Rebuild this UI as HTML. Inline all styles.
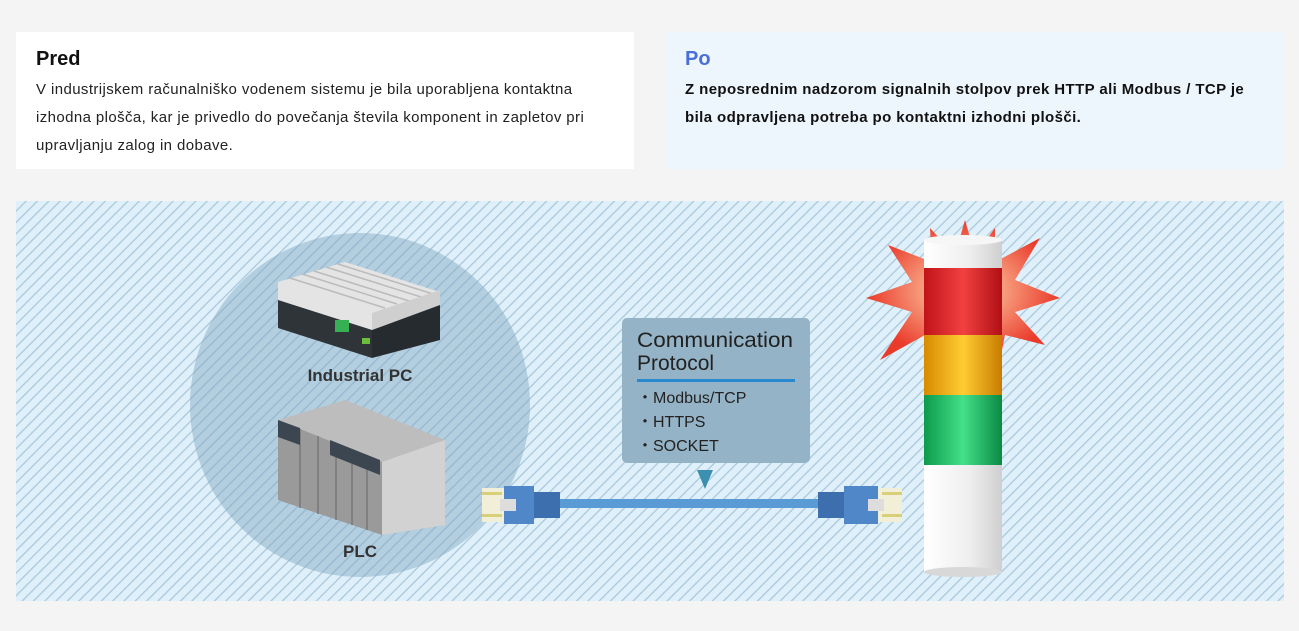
<!DOCTYPE html>
<html><head><meta charset="utf-8"><style>
body{margin:0;width:1299px;height:631px;background:#f4f4f4;font-family:"Liberation Sans",sans-serif;position:relative;overflow:hidden}
.p{position:absolute;top:32px;height:137px;box-sizing:border-box;padding:14px 20px;white-space:nowrap}
.l{left:16px;width:618px;background:#fff}
.r{left:665px;width:619px;background:#eef6fd}
h2{margin:0 0 4px;font-size:20px;font-weight:bold;line-height:26px}
.l p{margin:0;font-size:15px;line-height:28px;color:#222;letter-spacing:0.4px}
.r p{margin:0;font-size:15px;line-height:28px;font-weight:bold;color:#111;letter-spacing:0.4px}
svg{position:absolute;left:0;top:0}
</style></head><body>
<div class="p l"><h2 style="color:#111">Pred</h2><p>V industrijskem računalniško vodenem sistemu je bila uporabljena kontaktna<br>izhodna plošča, kar je privedlo do povečanja števila komponent in zapletov pri<br>upravljanju zalog in dobave.</p></div>
<div class="p r"><h2 style="color:#4a6fd8">Po</h2><p>Z neposrednim nadzorom signalnih stolpov prek HTTP ali Modbus / TCP je<br>bila odpravljena potreba po kontaktni izhodni plošči.</p></div>
<svg width="1299" height="631">
<defs>
<pattern id="h" width="8" height="8" patternUnits="userSpaceOnUse" patternTransform="rotate(45)"><rect width="8" height="8" fill="#dff0fa"/><rect width="1.3" height="8" fill="#a9c9dc"/></pattern>
<linearGradient id="wg" x1="0" x2="1"><stop offset="0" stop-color="#fff"/><stop offset="0.6" stop-color="#eee"/><stop offset="1" stop-color="#cfcfcf"/></linearGradient>
<linearGradient id="rg" x1="0" x2="1"><stop offset="0" stop-color="#c0141a"/><stop offset="0.5" stop-color="#f24040"/><stop offset="1" stop-color="#b01015"/></linearGradient>
<linearGradient id="ag" x1="0" x2="1"><stop offset="0" stop-color="#d88a00"/><stop offset="0.5" stop-color="#ffcc33"/><stop offset="1" stop-color="#c87c00"/></linearGradient>
<linearGradient id="gg" x1="0" x2="1"><stop offset="0" stop-color="#0c9a4c"/><stop offset="0.5" stop-color="#44e08a"/><stop offset="1" stop-color="#0a8a44"/></linearGradient>
<radialGradient id="sb"><stop offset="0.4" stop-color="#f7a080"/><stop offset="1" stop-color="#ea3a2a"/></radialGradient>
</defs>
<rect x="16" y="201" width="1268" height="400" fill="url(#h)"/>
<ellipse cx="360" cy="405" rx="170" ry="172" fill="#7fa4bf" opacity="0.45"/>
<polygon points="278,282 345,262 440,292 440,305 372,330 278,300" fill="#e4e4e4"/>
<g stroke="#bbb" stroke-width="1.5">
<line x1="290" y1="278" x2="385" y2="308"/><line x1="302" y1="274" x2="397" y2="304"/><line x1="314" y1="271" x2="409" y2="301"/><line x1="326" y1="267" x2="421" y2="297"/><line x1="338" y1="264" x2="433" y2="294"/></g>
<polygon points="372,313 440,290 440,305 372,330" fill="#cfcfcf"/>
<polygon points="278,300 372,330 372,358 278,328" fill="#2f3438"/>
<polygon points="372,330 440,305 440,340 372,358" fill="#262b2f"/>
<rect x="335" y="320" width="14" height="12" fill="#35b054"/>
<rect x="362" y="338" width="8" height="6" fill="#6cbf3a"/>
<text x="360" y="381" font-size="17" font-weight="bold" text-anchor="middle" fill="#333">Industrial PC</text>
<polygon points="278,420 345,400 445,440 382,462" fill="#bdbdbd"/>
<polygon points="382,462 445,440 445,525 382,535" fill="#d2d2d2"/>
<polygon points="278,420 382,462 382,535 278,500" fill="#9a9a9a"/>
<g stroke="#777" stroke-width="1.5"><line x1="300" y1="429" x2="300" y2="508"/><line x1="318" y1="436" x2="318" y2="514"/><line x1="336" y1="443" x2="336" y2="520"/><line x1="352" y1="449" x2="352" y2="525"/><line x1="367" y1="455" x2="367" y2="530"/></g>
<polygon points="278,420 300,428 300,445 278,437" fill="#3c4650"/>
<polygon points="330,440 380,460 380,475 330,455" fill="#3c4650"/>
<text x="360" y="557" font-size="17" font-weight="bold" text-anchor="middle" fill="#333">PLC</text>
<rect x="560" y="499" width="265" height="9" fill="#5a9bd5"/>
<rect x="482" y="488" width="24" height="34" fill="#f2efd8"/><rect x="482" y="492" width="20" height="3" fill="#d9cf7a"/><rect x="482" y="514" width="20" height="3" fill="#d9cf7a"/>
<rect x="504" y="486" width="30" height="38" fill="#4f87c9"/><rect x="500" y="499" width="16" height="12" fill="#ddd"/>
<rect x="534" y="492" width="26" height="26" fill="#3d6fae"/>
<rect x="878" y="488" width="24" height="34" fill="#f2efd8"/><rect x="882" y="492" width="20" height="3" fill="#d9cf7a"/><rect x="882" y="514" width="20" height="3" fill="#d9cf7a"/>
<rect x="844" y="486" width="34" height="38" fill="#4f87c9"/><rect x="868" y="499" width="16" height="12" fill="#ddd"/>
<rect x="818" y="492" width="26" height="26" fill="#3d6fae"/>
<rect x="622" y="318" width="188" height="145" rx="5" fill="#95b3c6"/>
<text x="637" y="347" font-size="21" fill="#222" textLength="156" lengthAdjust="spacingAndGlyphs">Communication</text>
<text x="637" y="370" font-size="21" fill="#222">Protocol</text>
<rect x="637" y="379" width="158" height="3" fill="#2a8ad0"/>
<text x="637" y="403" font-size="16" fill="#222">・Modbus/TCP</text>
<text x="637" y="427" font-size="16" fill="#222">・HTTPS</text>
<text x="637" y="451" font-size="16" fill="#222">・SOCKET</text>
<polygon points="697,470 713,470 705,489" fill="#3d8fb0"/>
<polygon fill="url(#sb)" points="965,220 975,255 995,228 995,262 1040,238 1015,280 1060,298 1015,312 1045,345 1005,335 1000,360 965,340 928,360 925,335 880,360 912,312 866,298 912,282 888,245 932,262 930,228 955,255"/>
<rect x="924" y="268" width="78" height="67" fill="url(#rg)"/>
<rect x="924" y="335" width="78" height="60" fill="url(#ag)"/>
<rect x="924" y="395" width="78" height="70" fill="url(#gg)"/>
<rect x="924" y="465" width="78" height="107" fill="url(#wg)"/>
<ellipse cx="963" cy="572" rx="39" ry="5" fill="#d8d8d8"/>
<rect x="924" y="240" width="78" height="28" fill="url(#wg)"/>
<ellipse cx="963" cy="240" rx="39" ry="5" fill="#f6f6f6"/>
</svg>
</body></html>
